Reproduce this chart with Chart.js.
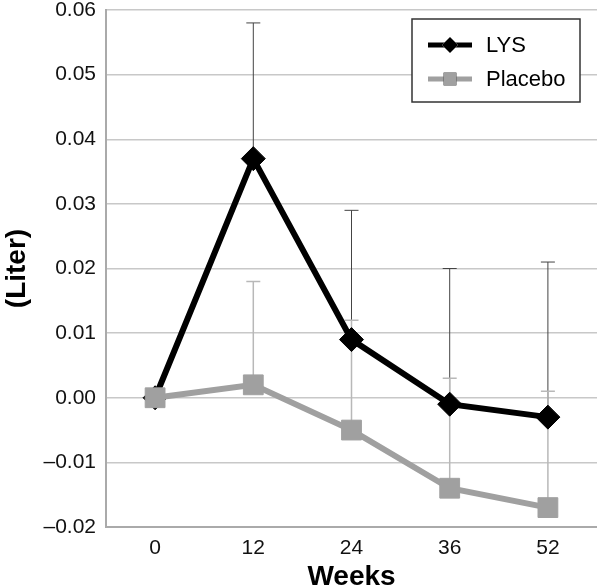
<!DOCTYPE html>
<html lang="en">
<head>
    <meta charset="UTF-8">
    <title>LYS vs Placebo</title>
    <script src="https://cdn.jsdelivr.net/npm/chart.js"></script>
    <style>
        html, body { margin: 0; padding: 0; background: #fff; }
        #wrap { width: 597px; height: 588px; }
    </style>
</head>
<body>
    <div id="wrap"><canvas id="chart"></canvas></div>
    <script>
        const weeks = ['0', '12', '24', '36', '52'];
        const lys = [0, 0.037, 0.009, -0.001, -0.003];
        const lysUpper = [null, 0.058, 0.029, 0.020, 0.021];
        const placebo = [0, 0.002, -0.005, -0.014, -0.017];
        const placeboUpper = [null, 0.018, 0.012, 0.003, 0.001];

        const FONT = "'Liberation Sans', Arial, sans-serif";

        // upward error bars, drawn under the lines
        const errorBars = {
            id: 'errorBars',
            beforeDatasetsDraw(chart) {
                const ctx = chart.ctx;
                const y = chart.scales.y;
                const sets = [
                    { idx: 0, upper: lysUpper, color: '#444', width: 1 },
                    { idx: 1, upper: placeboUpper, color: '#b8b8b8', width: 1.5 }
                ];
                ctx.save();
                sets.forEach(s => {
                    const meta = chart.getDatasetMeta(s.idx);
                    ctx.strokeStyle = s.color;
                    ctx.lineWidth = s.width;
                    meta.data.forEach((pt, j) => {
                        if (s.upper[j] == null) return;
                        const top = y.getPixelForValue(s.upper[j]);
                        ctx.beginPath();
                        ctx.moveTo(pt.x, pt.y);
                        ctx.lineTo(pt.x, top);
                        ctx.moveTo(pt.x - 7, top);
                        ctx.lineTo(pt.x + 7, top);
                        ctx.stroke();
                    });
                });
                ctx.restore();
            }
        };

        // boxed legend with line + marker icons
        const boxLegend = {
            id: 'boxLegend',
            afterDraw(chart) {
                const ctx = chart.ctx;
                const a = chart.chartArea;
                const bx = a.right - 185, by = a.top + 9, bw = 168, bh = 83;
                ctx.save();
                ctx.fillStyle = '#fff';
                ctx.fillRect(bx, by, bw, bh);
                ctx.strokeStyle = '#333';
                ctx.lineWidth = 1.5;
                ctx.strokeRect(bx, by, bw, bh);
                const items = [
                    { text: 'LYS', color: '#000', style: 'rectRot', r: 8 },
                    { text: 'Placebo', color: '#a0a0a0', style: 'rect', r: 9 }
                ];
                items.forEach((it, i) => {
                    const cy = by + 26 + i * 34;
                    const x0 = bx + 16;
                    ctx.strokeStyle = it.color;
                    ctx.lineWidth = 5;
                    ctx.beginPath();
                    ctx.moveTo(x0, cy);
                    ctx.lineTo(x0 + 44, cy);
                    ctx.stroke();
                    Chart.helpers.drawPoint(ctx, {
                        pointStyle: it.style, radius: it.r, rotation: 0, borderWidth: 0
                    }, x0 + 22, cy);
                    ctx.fillStyle = it.color;
                    ctx.fill();
                    ctx.fillStyle = '#000';
                    ctx.font = '22px ' + FONT;
                    ctx.textBaseline = 'middle';
                    ctx.textAlign = 'left';
                    ctx.fillText(it.text, x0 + 58, cy + 1);
                });
                ctx.restore();
            }
        };

        new Chart(document.getElementById('chart'), {
            type: 'line',
            data: {
                labels: weeks,
                datasets: [
                    {
                        label: 'LYS',
                        data: lys,
                        borderColor: '#000',
                        backgroundColor: '#000',
                        borderWidth: 6,
                        pointStyle: 'rectRot',
                        pointRadius: 12,
                        pointBorderWidth: 1,
                        order: 1
                    },
                    {
                        label: 'Placebo',
                        data: placebo,
                        borderColor: '#a0a0a0',
                        backgroundColor: '#a0a0a0',
                        borderWidth: 6,
                        pointStyle: 'rect',
                        pointRadius: 14,
                        pointBorderWidth: 1,
                        order: 0
                    }
                ]
            },
            options: {
                responsive: true,
                maintainAspectRatio: false,
                animation: false,
                layout: { autoPadding: false, padding: { top: 10, right: 0, left: 0, bottom: 0 } },
                plugins: {
                    legend: { display: false },
                    tooltip: { enabled: false }
                },
                scales: {
                    x: {
                        offset: true,
                        grid: { display: false, drawTicks: false },
                        border: { color: '#aaa', width: 2 },
                        ticks: { color: '#111', font: { family: FONT, size: 21 }, padding: 9 },
                        title: {
                            display: true, text: 'Weeks', color: '#000',
                            font: { family: FONT, size: 28, weight: 'bold', lineHeight: 0.8 },
                            padding: 0
                        },
                        afterFit(s) {
                            s.height = 61;
                            s.paddingLeft = 0;
                            s.paddingRight = 0;
                        }
                    },
                    y: {
                        min: -0.02,
                        max: 0.06,
                        grid: { color: '#c8c8c8', lineWidth: 1.5, drawTicks: false },
                        border: { color: '#aaa', width: 2 },
                        ticks: {
                            stepSize: 0.01,
                            color: '#111',
                            font: { family: FONT, size: 21 },
                            padding: 10,
                            callback: v => Math.abs(v) < 1e-9 ? '0.00' : (v < 0 ? '\u2013' : '') + Math.abs(v).toFixed(2)
                        },
                        title: {
                            display: true, text: '(Liter)', color: '#000',
                            font: { family: FONT, size: 28, weight: 'bold' },
                            padding: 0
                        },
                        afterFit(s) {
                            s.width = 106;
                            s.paddingTop = 0;
                            s.paddingBottom = 0;
                        }
                    }
                }
            },
            plugins: [errorBars, boxLegend]
        });
    </script>
</body>
</html>
